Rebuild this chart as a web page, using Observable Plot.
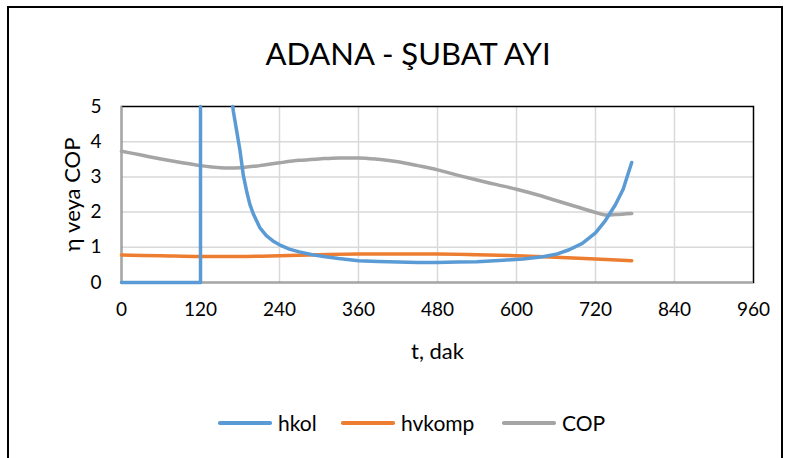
<!DOCTYPE html>
<html><head><meta charset="utf-8">
<script src="https://cdn.jsdelivr.net/npm/d3@7"></script>
<script src="https://cdn.jsdelivr.net/npm/@observablehq/plot@0.6"></script>
<style>
body{margin:0;background:#fff;font-family:Lato,"Open Sans",sans-serif;color:#000;}
#wrap{position:relative;width:789px;height:458px;overflow:hidden;background:#fff;}
#border{position:absolute;left:7px;top:6px;width:776px;height:470px;border:2px solid #000;box-sizing:border-box;}
#title{position:absolute;left:0;width:816px;top:36px;text-align:center;font-size:31px;line-height:35px;}
#chart{position:absolute;left:0;top:0;}
.leg{position:absolute;top:411px;display:flex;align-items:center;font-size:21px;line-height:24px;}
.leg span.sw{display:inline-block;width:54px;height:3.5px;margin-right:6px;border-radius:1.75px;}
</style>
</head><body>
<div id="wrap">
<div id="border"></div>
<div id="title">ADANA - ŞUBAT AYI</div>
<div id="chart"></div>
<div class="leg" style="left:218px"><span class="sw" style="background:#5B9BD5"></span>hkol</div>
<div class="leg" style="left:341px"><span class="sw" style="background:#ED7D31"></span>hvkomp</div>
<div class="leg" style="left:502px"><span class="sw" style="background:#A5A5A5"></span>COP</div>
</div>
<script>
// tick labels
const xTicks = [0, 120, 240, 360, 480, 600, 720, 840, 960];
const yTicks = [0, 1, 2, 3, 4, 5];
const xLabel = "t, dak";
const yLabel = "η veya COP";

// hkol (the curve leaves the plot above 5 between t=120 and t≈169)
const hkolT = [0, 30, 60, 90, 120, 120, 120, 169, 170, 175, 180, 185, 190, 195, 200, 210, 220, 230, 240, 255, 270, 290, 310, 330, 360, 390, 420, 450, 480, 510, 540, 580, 610, 640, 660, 680, 700, 720, 735, 750, 762, 775];
const hkolV = [0, 0, 0, 0, 0, 5, NaN, 5, 4.85, 4.3, 3.75, 3.05, 2.6, 2.22, 1.96, 1.56, 1.33, 1.18, 1.07, 0.95, 0.87, 0.79, 0.73, 0.68, 0.62, 0.6, 0.58, 0.57, 0.57, 0.58, 0.59, 0.63, 0.67, 0.73, 0.8, 0.93, 1.11, 1.41, 1.76, 2.2, 2.65, 3.41];

// hvkomp
const hvT = [0, 60, 120, 180, 240, 300, 360, 420, 480, 540, 600, 660, 720, 775];
const hvV = [0.78, 0.76, 0.74, 0.74, 0.76, 0.79, 0.81, 0.81, 0.81, 0.79, 0.76, 0.72, 0.67, 0.62];

// COP
const copT = [0, 30, 60, 90, 120, 150, 165, 180, 210, 240, 270, 300, 330, 360, 390, 420, 450, 480, 510, 540, 570, 600, 630, 660, 690, 720, 735, 750, 775];
const copV = [3.73, 3.62, 3.51, 3.41, 3.32, 3.26, 3.25, 3.26, 3.32, 3.4, 3.47, 3.51, 3.54, 3.54, 3.5, 3.43, 3.32, 3.2, 3.05, 2.91, 2.78, 2.65, 2.5, 2.33, 2.16, 1.99, 1.92, 1.93, 1.96];

const hkol = hkolT.map((t, i) => ({t, v: hkolV[i]}));
const hv = hvT.map((t, i) => ({t, v: hvV[i]}));
const cop = copT.map((t, i) => ({t, v: copV[i]}));

const chart = Plot.plot({
  width: 789, height: 458,
  marginLeft: 121, marginRight: 36, marginTop: 106, marginBottom: 176,
  style: {fontFamily: "Lato, 'Open Sans', sans-serif", fontSize: "19px", color: "#000", background: "transparent", overflow: "visible"},
  x: {domain: [0, 960], ticks: xTicks, tickSize: 0, tickPadding: 20, label: null, tickFormat: "d"},
  y: {domain: [0, 5], ticks: yTicks, tickSize: 0, tickPadding: 20, label: null, tickFormat: "d"},
  marks: [
    Plot.ruleY(yTicks.slice(1, -1), {stroke: "#d9d9d9", strokeWidth: 1.5}),
    Plot.ruleX(xTicks.slice(1, -1), {stroke: "#d9d9d9", strokeWidth: 1.5}),
    Plot.frame({stroke: "#000", strokeWidth: 1.5}),
    Plot.ruleX([0], {stroke: "#a6a6a6", strokeWidth: 1.5}),
    Plot.ruleY([0], {stroke: "#a6a6a6", strokeWidth: 1.5}),
    Plot.line(cop, {x: "t", y: "v", stroke: "#A5A5A5", strokeWidth: 3.5, curve: "monotone-x"}),
    Plot.line(hv, {x: "t", y: "v", stroke: "#ED7D31", strokeWidth: 3.5, curve: "monotone-x"}),
    Plot.line(hkol, {x: "t", y: "v", stroke: "#5B9BD5", strokeWidth: 3.5, curve: "linear"}),
    Plot.text([yLabel], {frameAnchor: "left", textAnchor: "middle", rotate: -90, dx: -49, fontSize: 22, fill: "#000"}),
    Plot.text([xLabel], {frameAnchor: "bottom", dy: 76, fontSize: 22, fill: "#000"})
  ]
});
document.getElementById("chart").appendChild(chart);
</script>
</body></html>
